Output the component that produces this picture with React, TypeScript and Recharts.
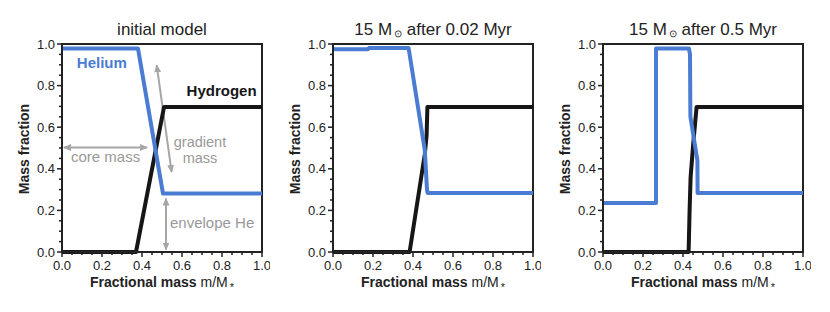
import React from "react";
import { LineChart, Line, XAxis, YAxis, ReferenceLine, ReferenceDot, ReferenceArea } from "recharts";

const FONT = '"Liberation Sans", Arial, Helvetica, sans-serif';
const BLUE = "#4a7cd3";
const BLACK = "#161616";
const GREY = "#a6a6a6";
const AXIS = "#222";

// tick positions (0.05 steps, labels every 0.2)
const xTicks = [0, 0.05, 0.1, 0.15, 0.2, 0.25, 0.3, 0.35, 0.4, 0.45, 0.5, 0.55, 0.6, 0.65, 0.7, 0.75, 0.8, 0.85, 0.9, 0.95, 1];
const yTicks = [0, 0.05, 0.1, 0.15, 0.2, 0.25, 0.3, 0.35, 0.4, 0.45, 0.5, 0.55, 0.6, 0.65, 0.7, 0.75, 0.8, 0.85, 0.9, 0.95, 1];

// initial model
const heMass1 = [0, 0.38, 0.505, 1];
const he1 = [0.978, 0.978, 0.281, 0.281];
const hMass1 = [0, 0.37, 0.51, 1];
const h1 = [0, 0, 0.697, 0.697];

// 15 Msun after 0.02 Myr
const heMass2 = [0, 0.175, 0.18, 0.378, 0.459, 0.47, 0.473, 1];
const he2 = [0.975, 0.975, 0.981, 0.981, 0.49, 0.3, 0.284, 0.284];
const hMass2 = [0, 0.383, 0.459, 0.468, 0.472, 1];
const h2 = [0, 0, 0.47, 0.56, 0.697, 0.697];

// 15 Msun after 0.5 Myr
const heMass3 = [0, 0.265, 0.265, 0.43, 0.435, 0.437, 0.472, 0.473, 1];
const he3 = [0.236, 0.236, 0.978, 0.978, 0.95, 0.65, 0.44, 0.284, 0.284];
const hMass3 = [0, 0.428, 0.433, 0.438, 0.452, 0.468, 1];
const h3 = [0, 0, 0.2, 0.36, 0.53, 0.697, 0.697];

const toRows = (ms: number[], vs: number[]) => ms.map((m, i) => ({ m, v: vs[i] }));

const XTick = (props: any) => {
  const { x, y, payload } = props;
  const v = payload.value;
  const major = Math.round(v * 20) % 4 === 0;
  return (
    <g>
      <line x1={x} x2={x} y1={y} y2={y + (major ? 5 : 3)} stroke={AXIS} strokeWidth={1.5} />
      {major && (
        <text x={x} y={y + 17.5} textAnchor="middle" fontSize={13} fill={AXIS} fontFamily={FONT}>
          {v.toFixed(1)}
        </text>
      )}
    </g>
  );
};

const YTick = (props: any) => {
  const { x, y, payload } = props;
  const v = payload.value;
  const major = Math.round(v * 20) % 4 === 0;
  return (
    <g>
      <line x1={x - (major ? 5 : 3)} x2={x} y1={y} y2={y} stroke={AXIS} strokeWidth={1.5} />
      {major && (
        <text x={x - 7} y={y + 4.5} textAnchor="end" fontSize={13} fill={AXIS} fontFamily={FONT}>
          {v.toFixed(1)}
        </text>
      )}
    </g>
  );
};

const arrow = (p: any) => (
  <line x1={p.x1} y1={p.y1} x2={p.x2} y2={p.y2} stroke={GREY} strokeWidth={2}
    markerStart="url(#ahead)" markerEnd="url(#ahead)" />
);

const label = (txt: string, anchor: string, color: string, bold: boolean, size = 15) => (p: any) => (
  <text x={p.cx} y={p.cy} textAnchor={anchor} fontSize={size} fill={color}
    fontWeight={bold ? "bold" : "normal"} fontFamily={FONT}>{txt}</text>
);

function Panel({ left, title, he, h, notes }: any) {
  return (
    <div style={{ position: "absolute", left, top: 0, width: 270, height: 312 }}>
      <LineChart width={270} height={312} margin={{ top: 44, right: 8, left: 0, bottom: 0 }}>
        <XAxis dataKey="m" type="number" domain={[0, 1]} ticks={xTicks} interval={0}
          tick={<XTick />} tickLine={false} tickSize={0} tickMargin={0} height={60}
          axisLine={{ stroke: AXIS, strokeWidth: 2 }} allowDuplicatedCategory={false} />
        <YAxis type="number" domain={[0, 1]} ticks={yTicks} interval={0}
          tick={<YTick />} tickLine={false} tickSize={0} tickMargin={0} width={62}
          axisLine={{ stroke: AXIS, strokeWidth: 2 }} />
        <ReferenceArea x1={0} x2={1} y1={0} y2={1} fill="none" stroke={AXIS} strokeWidth={2} ifOverflow="visible" />
        {notes && (
          <>
            <ReferenceLine segment={[{ x: 0.01, y: 0.502 }, { x: 0.425, y: 0.502 }]} shape={arrow} ifOverflow="visible" />
            <ReferenceLine segment={[{ x: 0.4735, y: 0.898 }, { x: 0.548, y: 0.385 }]} shape={arrow} ifOverflow="visible" />
            <ReferenceLine segment={[{ x: 0.52, y: 0.257 }, { x: 0.52, y: 0.012 }]} shape={arrow} ifOverflow="visible" />
            <ReferenceDot x={0.074} y={0.883} r={0} shape={label("Helium", "start", BLUE, true)} />
            <ReferenceDot x={0.973} y={0.749} r={0} shape={label("Hydrogen", "end", BLACK, true)} />
            <ReferenceDot x={0.218} y={0.433} r={0} shape={label("core mass", "middle", "#999", false)} />
            <ReferenceDot x={0.69} y={0.504} r={0} shape={label("gradient", "middle", "#999", false, 14.5)} />
            <ReferenceDot x={0.69} y={0.428} r={0} shape={label("mass", "middle", "#999", false, 14.5)} />
            <ReferenceDot x={0.54} y={0.117} r={0} shape={label("envelope He", "start", "#999", false)} />
          </>
        )}
        <Line data={h} dataKey="v" type="linear" stroke={BLACK} strokeWidth={4} dot={false}
          strokeLinejoin="round" isAnimationActive={false} />
        <Line data={he} dataKey="v" type="linear" stroke={BLUE} strokeWidth={4} dot={false}
          strokeLinejoin="round" isAnimationActive={false} />
      </LineChart>
      <svg width={270} height={312} style={{ position: "absolute", left: 0, top: 0, pointerEvents: "none" }}
        fontFamily={FONT}>
        <text x={162} y={35} textAnchor="middle" fontSize={17} fill="#222">{title}</text>
        <text x={24} y={149} transform="rotate(-90 24 149)" textAnchor="middle" dominantBaseline="central"
          fontSize={14} fontWeight="bold" fill="#222">Mass fraction</text>
        <text x={162} y={287} textAnchor="middle" fill="#222">
          <tspan fontSize={14} fontWeight="bold">Fractional mass </tspan>
          <tspan fontSize={14}>m/M</tspan>
          <tspan fontSize={11} dx={2} dy={4}>*</tspan>
        </text>
      </svg>
    </div>
  );
}

const sunTitle = (t: string) => (
  <>
    15 M<tspan fontSize={10} dx={2} dy={2}>⊙</tspan><tspan dy={-2}> {t}</tspan>
  </>
);

export default function App() {
  return (
    <div style={{ position: "absolute", left: 0, top: 0, width: 830, height: 312, background: "#fff" }}>
      <svg width={0} height={0} style={{ position: "absolute" }}>
        <defs>
          <marker id="ahead" viewBox="0 0 8 7" refX={7} refY={3.5} markerWidth={8} markerHeight={7}
            markerUnits="userSpaceOnUse" orient="auto-start-reverse">
            <path d="M0,0 L8,3.5 L0,7 z" fill={GREY} />
          </marker>
        </defs>
      </svg>
      <Panel left={0} title="initial model" he={toRows(heMass1, he1)} h={toRows(hMass1, h1)} notes />
      <Panel left={271} title={sunTitle("after 0.02 Myr")} he={toRows(heMass2, he2)} h={toRows(hMass2, h2)} />
      <Panel left={541} title={sunTitle("after 0.5 Myr")} he={toRows(heMass3, he3)} h={toRows(hMass3, h3)} />
    </div>
  );
}
